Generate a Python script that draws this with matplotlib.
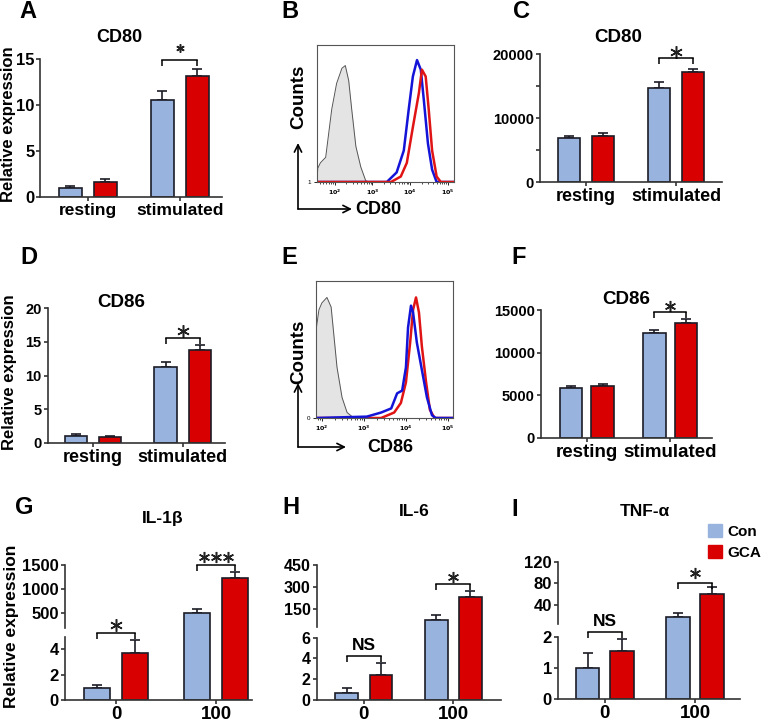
import numpy as np
import matplotlib
matplotlib.use("Agg")
import matplotlib.pyplot as plt
import matplotlib.transforms as mtransforms
from matplotlib.patches import Patch, FancyArrowPatch
from matplotlib.ticker import FixedLocator, LogLocator, NullFormatter

plt.rcParams['font.family'] = ['Liberation Sans', 'DejaVu Sans']
plt.rcParams['font.weight'] = 'bold'
plt.rcParams['axes.linewidth'] = 1.2

W, H = 762, 724
BLUE = '#98b4de'
RED = '#d80000'
EDGE = '#1c1c28'

# ---- data ----
cd_groups = ['resting', 'stimulated']
dose_groups = ['0', '100']

# A: CD80 relative expression
a_con, a_con_err = [1.0, 10.5], [0.25, 1.0]
a_gca, a_gca_err = [1.65, 13.2], [0.3, 0.7]
# C: CD80 MFI
c_con, c_con_err = [6900, 14750], [300, 850]
c_gca, c_gca_err = [7150, 17200], [500, 500]
# D: CD86 relative expression
d_con, d_con_err = [1.05, 11.2], [0.25, 0.8]
d_gca, d_gca_err = [0.85, 13.8], [0.2, 0.7]
# F: CD86 MFI
f_con, f_con_err = [5900, 12350], [230, 300]
f_gca, f_gca_err = [6130, 13450], [150, 450]
# G: IL-1b
g_con, g_con_err = [0.95, 500], [0.2, 80]
g_gca, g_gca_err = [3.7, 1225], [1.0, 135]
# H: IL-6
h_con, h_con_err = [0.7, 78], [0.5, 29]
h_gca, h_gca_err = [2.4, 231], [1.2, 45]
# I: TNF-a
i_con, i_con_err = [1.0, 18.4], [0.48, 6.3]
i_gca, i_gca_err = [1.55, 59.7], [0.37, 14]

# flow histograms: log10(fluorescence), relative counts (%)
b_iso_x = [1.53, 1.55, 1.62, 1.76, 1.92, 2.05, 2.19, 2.28, 2.37, 2.45, 2.56, 2.69, 2.82, 2.9]
b_iso_y = [0, 10, 14, 18, 53, 72, 83, 85, 74, 53, 26, 11, 1, 0]
b_con_x = [1.53, 3.38, 3.64, 3.83, 3.96, 4.07, 4.18, 4.28, 4.36, 4.47, 4.58, 4.70, 5.16]
b_con_y = [0, 0, 7, 23, 53, 77, 89, 82, 60, 28, 9, 0, 0]
b_gca_x = [1.53, 3.49, 3.75, 3.91, 4.07, 4.23, 4.31, 4.41, 4.49, 4.58, 4.70, 4.81, 5.16]
b_gca_y = [0, 0, 4, 14, 40, 65, 82, 77, 53, 23, 4, 0, 0]

e_iso_x = [1.86, 1.861, 1.93, 2.0, 2.12, 2.22, 2.29, 2.36, 2.48, 2.6, 2.76]
e_iso_y = [0, 64, 79, 84, 88, 81, 59, 37, 15, 4, 0]
e_con_x = [1.86, 3.07, 3.41, 3.65, 3.79, 3.91, 4.0, 4.05, 4.12, 4.17, 4.26, 4.38, 4.5, 4.62, 4.71, 5.12]
e_con_y = [0, 1, 4, 7, 18, 20, 37, 66, 82, 77, 55, 35, 15, 2, 0, 0]
e_gca_x = [1.86, 3.41, 3.72, 3.88, 4.0, 4.1, 4.17, 4.24, 4.31, 4.38, 4.48, 4.57, 4.68, 5.12]
e_gca_y = [0, 0, 4, 11, 26, 55, 79, 88, 77, 52, 26, 6, 0, 0]

fig = plt.figure(figsize=(W / 100, H / 100), dpi=100)


def px_axes(x0, y0, x1, y1):
    return fig.add_axes([x0 / W, 1 - y1 / H, (x1 - x0) / W, (y1 - y0) / H])


def ftext(x, y, s, **kw):
    fig.text(x / W, 1 - y / H, s, **kw)


def bar_panel(ax, labels, con, con_err, gca, gca_err, xlim, width=0.25, off=0.19):
    x = np.arange(len(labels))
    for xs, v, e, c in [(x - off, con, con_err, BLUE), (x + off, gca, gca_err, RED)]:
        ax.bar(xs, v, width, color=c, edgecolor=EDGE, linewidth=1.2, zorder=2)
        ax.errorbar(xs, v, yerr=[np.zeros(len(v)), e], fmt='none', ecolor=EDGE,
                    elinewidth=1.2, capsize=3.5, capthick=1.2, zorder=1)
    ax.set_xticks(x)
    ax.set_xticklabels(labels)
    ax.set_xlim(*xlim)
    for s in ['top', 'right']:
        ax.spines[s].set_visible(False)
    for s in ['left', 'bottom']:
        ax.spines[s].set_color('#333333')
    ax.tick_params(axis='both', direction='out', length=3, width=1.2, color='#333333')
    ax.tick_params(axis='y', pad=1.5)
    ax.tick_params(axis='x', pad=1.5)
    return x


def bracket(ax, x0, x1, y, n=1, ms=9, text=None, gap=7):
    ax.plot([x0, x1], [y, y], color='black', lw=1.1, clip_on=False, zorder=3)
    ax.plot([x0, x1], [y, y], ls='', marker=3, ms=4, mew=1.1, color='black', clip_on=False)
    xc = (x0 + x1) / 2
    if text:
        t = mtransforms.offset_copy(ax.transData, fig=fig, y=3, units='dots')
        ax.text(xc, y, text, transform=t, ha='center', va='bottom', fontsize=12.5,
                fontweight='bold', clip_on=False)
        return
    xs_px = (np.arange(n) - (n - 1) / 2) * ms * 1.5
    for dx in xs_px:
        tt = mtransforms.offset_copy(ax.transData, fig=fig, x=dx, y=gap, units='dots')
        ax.plot([xc], [y], ls='', marker=(6, 2, 0), ms=ms, mew=1.1, color='#222222',
                transform=tt, clip_on=False)


def broken_axis(ax, kv, kp, lower_ticks, upper_ticks):
    kv = np.asarray(kv, float)
    kp = np.asarray(kp, float)

    def mk(a, b):
        def f(v):
            v = np.asarray(v, float)
            out = np.interp(v, a, b)
            out = np.where(v < a[0], b[0] + (v - a[0]) * (b[1] - b[0]) / (a[1] - a[0]), out)
            out = np.where(v > a[-1], b[-1] + (v - a[-1]) * (b[-1] - b[-2]) / (a[-1] - a[-2]), out)
            return out
        return f

    ax.set_yscale('function', functions=(mk(kv, kp), mk(kp, kv)))
    ax.set_ylim(kv[0], kv[-1])
    ax.yaxis.set_major_locator(FixedLocator(lower_ticks + upper_ticks))
    ax.set_yticklabels([str(t) for t in lower_ticks + upper_ticks])
    ax.yaxis.set_minor_locator(FixedLocator([]))
    ax.spines['left'].set_visible(False)
    tr = mtransforms.blended_transform_factory(ax.transAxes, ax.transData)
    for lo, hi in [(kv[0], kv[1]), (kv[2], kv[3])]:
        ax.plot([0, 0], [lo, hi], color='#333333', lw=1.2, transform=tr, clip_on=False)


def flow_panel(ax, iso_x, iso_y, con_x, con_y, gca_x, gca_y, xlim, ylab, red_top):
    ax.fill_between(10 ** np.array(iso_x), iso_y, color='#e4e4e4', lw=0)
    ax.plot(10 ** np.array(iso_x), iso_y, color='#555555', lw=0.7)
    order = [(con_x, con_y, '#1414d8'), (gca_x, gca_y, '#e01414')]
    if not red_top:
        order = order[::-1]
    for xs, ys, c in order:
        ax.plot(10 ** np.array(xs), ys, color=c, lw=1.8)
    ax.set_xscale('log')
    ax.set_xlim(10 ** xlim[0], 10 ** xlim[1])
    ax.set_ylim(0, 100)
    ax.xaxis.set_major_locator(FixedLocator([1e2, 1e3, 1e4, 1e5]))
    ax.xaxis.set_minor_locator(LogLocator(base=10, subs=np.arange(2, 10), numticks=20))
    ax.xaxis.set_minor_formatter(NullFormatter())
    ax.set_xticklabels(['$10^2$', '$10^3$', '$10^4$', '$10^5$'])
    ax.set_yticks([0])
    ax.set_yticklabels([ylab])
    ax.tick_params(labelsize=4.5, length=2.5, width=0.6, pad=1.5)
    ax.tick_params(which='minor', length=1.5, width=0.5)
    for s in ax.spines.values():
        s.set_linewidth(0.8)
        s.set_color('#555555')
    for lab in ax.get_xticklabels() + ax.get_yticklabels():
        lab.set_fontweight('normal')


# ---------- A ----------
ax = px_axes(40, 59, 222, 197)
x = bar_panel(ax, cd_groups, a_con, a_con_err, a_gca, a_gca_err, (-0.52, 1.46))
ax.set_ylim(0, 15)
ax.set_yticks([0, 5, 10, 15])
ax.tick_params(axis='y', labelsize=12, pad=1)
ax.tick_params(axis='x', labelsize=12.5)
bracket(ax, 1 - 0.19, 1 + 0.19, 14.9, ms=6, gap=12)
ftext(9, 124, 'Relative expression', rotation=90, ha='center', va='center', fontsize=12)
ftext(119, 37, 'CD80', ha='center', va='center', fontsize=13)

# ---------- C ----------
ax = px_axes(540, 54, 722, 182)
bar_panel(ax, cd_groups, c_con, c_con_err, c_gca, c_gca_err, (-0.51, 1.51))
ax.set_ylim(0, 20000)
ax.set_yticks([0, 10000, 20000])
ax.set_yticks([5000, 15000], minor=True)
ax.tick_params(axis='y', which='minor', length=3, width=1.2, color='#333333')
ax.tick_params(axis='y', labelsize=10.5)
ax.tick_params(axis='x', labelsize=13)
bracket(ax, 1 - 0.19, 1 + 0.19, 19400, ms=9, gap=6)
ftext(618, 37, 'CD80', ha='center', va='center', fontsize=13.5)

# ---------- D ----------
ax = px_axes(48, 308, 225, 443)
bar_panel(ax, cd_groups, d_con, d_con_err, d_gca, d_gca_err, (-0.5, 1.47))
ax.set_ylim(0, 20)
ax.set_yticks([0, 5, 10, 15, 20])
ax.tick_params(axis='y', labelsize=10.5)
ax.tick_params(axis='x', labelsize=13)
bracket(ax, 1 - 0.19, 1 + 0.19, 15.6, ms=9, gap=7)
ftext(10, 372, 'Relative expression', rotation=90, ha='center', va='center', fontsize=12)
ftext(121, 303, 'CD86', ha='center', va='center', fontsize=13.5)

# ---------- F ----------
ax = px_axes(541, 310, 712, 438)
bar_panel(ax, cd_groups, f_con, f_con_err, f_gca, f_gca_err, (-0.55, 1.5), width=0.27)
ax.set_ylim(0, 15000)
ax.set_yticks([0, 5000, 10000, 15000])
ax.tick_params(axis='y', labelsize=10.5)
ax.tick_params(axis='x', labelsize=13.5)
bracket(ax, 1 - 0.19, 1 + 0.19, 14800, ms=8, gap=6)
ftext(626, 300, 'CD86', ha='center', va='center', fontsize=13.5)

# ---------- B / E (flow) ----------
ax = px_axes(317, 45, 454, 182)
flow_panel(ax, b_iso_x, b_iso_y, b_con_x, b_con_y, b_gca_x, b_gca_y, (1.53, 5.16), '1', True)
ax = px_axes(316, 281, 453, 418)
flow_panel(ax, e_iso_x, e_iso_y, e_con_x, e_con_y, e_gca_x, e_gca_y, (1.86, 5.12), '0', False)

for cy, top, right, lab, ly, lx in [(209, 143, 352, 'CD80', 97, 378), (447, 383, 346, 'CD86', 352, 390)]:
    for end in [(298, top), (right, cy)]:
        fig.add_artist(FancyArrowPatch((298 / W, 1 - cy / H), (end[0] / W, 1 - end[1] / H),
                                       transform=fig.transFigure, arrowstyle='->',
                                       mutation_scale=13, lw=1.2, color='black',
                                       shrinkA=0, shrinkB=0))
    ftext(299, ly, 'Counts', rotation=90, ha='center', va='center', fontsize=13.5)
    ftext(lx, cy, lab, ha='center', va='center', fontsize=13)

# ---------- G ----------
ax = px_axes(65, 565, 252, 700)
bar_panel(ax, dose_groups, g_con, g_con_err, g_gca, g_gca_err, (-0.51, 1.36), width=0.255)
broken_axis(ax, [0, 5, 200, 1500], [0, 63.3, 72.3, 135], [0, 2, 4], [500, 1000, 1500])
ax.tick_params(axis='y', labelsize=12)
ax.tick_params(axis='x', labelsize=13.5, pad=1)
bracket(ax, -0.19, 0.19, 85, ms=9, gap=8)
bracket(ax, 1 - 0.19, 1 + 0.19, 1500, n=3, ms=8, gap=8)
ftext(12, 626, 'Relative expression', rotation=90, ha='center', va='center', fontsize=12.5)
ftext(163, 519, 'IL-1β', ha='center', va='center', fontsize=12.5)

# ---------- H ----------
ax = px_axes(317, 565, 501, 700)
bar_panel(ax, dose_groups, h_con, h_con_err, h_gca, h_gca_err, (-0.52, 1.53))
broken_axis(ax, [0, 6, 30, 450], [0, 62.3, 73.3, 135], [0, 2, 4, 6], [150, 300, 450])
ax.tick_params(axis='y', labelsize=11.5)
ax.tick_params(axis='x', labelsize=13.5, pad=1)
bracket(ax, -0.19, 0.19, 4.25, text='NS')
bracket(ax, 1 - 0.19, 1 + 0.19, 320, ms=8, gap=7)
ftext(414, 512, 'IL-6', ha='center', va='center', fontsize=12.5)

# ---------- I ----------
ax = px_axes(558, 561.7, 740, 699.3)
bar_panel(ax, dose_groups, i_con, i_con_err, i_gca, i_gca_err, (-0.52, 1.5), width=0.26)
broken_axis(ax, [0, 2, 5, 120], [0, 62.6, 75.3, 137.6], [0, 1, 2], [40, 80, 120])
ax.tick_params(axis='y', labelsize=12)
ax.tick_params(axis='x', labelsize=13.5, pad=1)
bracket(ax, -0.19, 0.19, 3.1, text='NS')
bracket(ax, 1 - 0.19, 1 + 0.19, 80, ms=8, gap=10)
ftext(645, 512, 'TNF-α', ha='center', va='center', fontsize=12.5)

fig.legend(handles=[Patch(color=BLUE), Patch(color=RED)], labels=['Con', 'GCA'],
           loc='upper left', bbox_to_anchor=(708 / W, 1 - 524 / H), frameon=False,
           handlelength=0.9, handleheight=0.9, handletextpad=0.35, labelspacing=0.45,
           fontsize=11, borderaxespad=0, borderpad=0)

# panel letters
for lx, ly, s in [(28, 12, 'A'), (290, 12, 'B'), (521, 12, 'C'),
                  (29, 257, 'D'), (289, 258, 'E'), (519, 257, 'F'),
                  (24, 508, 'G'), (291, 508, 'H'), (515, 510, 'I')]:
    ftext(lx, ly, s, ha='center', va='center', fontsize=17)

fig.savefig('out.png', dpi=100)
